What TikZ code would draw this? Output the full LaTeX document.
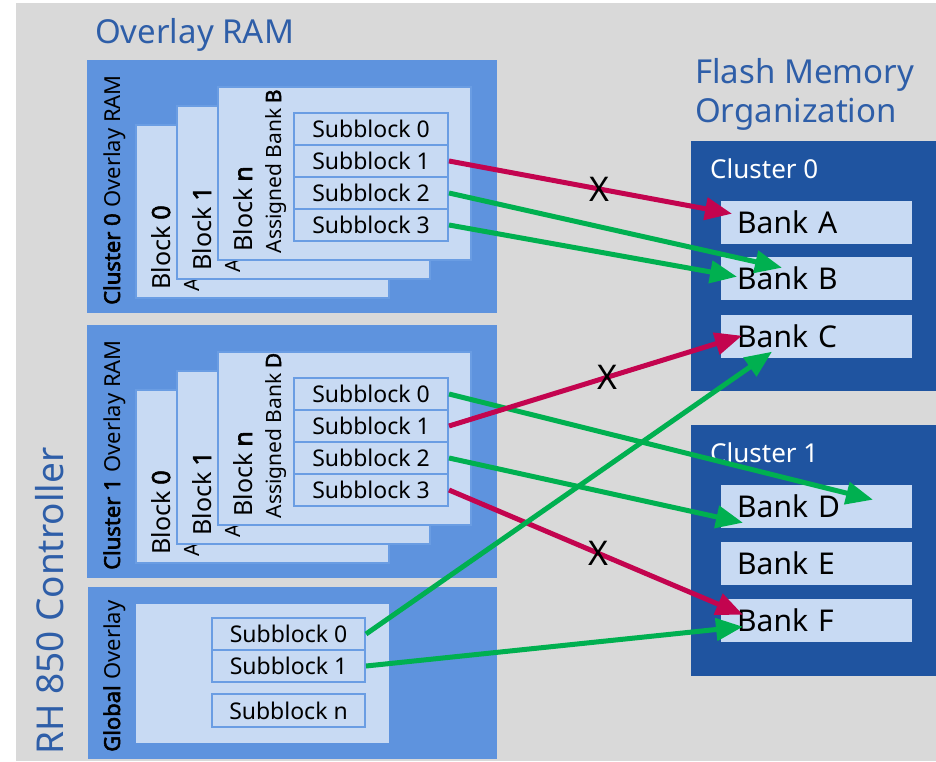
\documentclass[tikz,border=0pt]{standalone}
\usepackage{fontspec}
\setmainfont{Noto Sans}[AutoFakeBold=2.5]
\usetikzlibrary{arrows.meta, calc, positioning}
\definecolor{bggray}{HTML}{D9D9D9}
\definecolor{midblue}{HTML}{5E93DE}
\definecolor{paleblue}{HTML}{C8DAF3}
\definecolor{edgeblue}{HTML}{6A9DE3}
\definecolor{darkblue}{HTML}{1F54A0}
\definecolor{titleblue}{HTML}{2E5EA8}
\definecolor{okgreen}{HTML}{00B050}
\definecolor{badred}{HTML}{C3044F}

\begin{document}
\begin{tikzpicture}[x=1pt, y=-1pt,
  title/.style   = {font=\fontsize{33}{39}\selectfont, text=titleblue, inner sep=0},
  ovl/.style     = {rectangle, fill=midblue, anchor=north west, inner sep=0},
  blk/.style     = {rectangle, fill=paleblue, draw=edgeblue, line width=1.5pt,
                    anchor=north west, minimum width=253pt, minimum height=173pt, inner sep=0},
  sub/.style     = {rectangle, fill=paleblue, draw=edgeblue, line width=2pt, anchor=north west,
                    minimum width=154pt, minimum height=32pt, inner sep=0,
                    font=\fontsize{23}{27}\selectfont},
  sidelbl/.style = {rotate=90, anchor=base west, inner sep=0, font=\fontsize{22}{26}\selectfont},
  blklbl/.style  = {rotate=90, anchor=base west, inner sep=0, font=\fontsize{25}{30}\selectfont},
  asglbl/.style  = {rotate=90, anchor=base west, inner sep=0, font=\fontsize{21}{25}\selectfont},
  fcl/.style     = {rectangle, fill=darkblue, anchor=north west, inner sep=0},
  bank/.style    = {rectangle, fill=paleblue, anchor=north west, minimum height=43pt,
                    text width=159pt, inner xsep=16pt, inner ysep=0, align=left,
                    font=\fontsize{30}{36}\selectfont},
  go/.style      = {draw=okgreen, line width=5pt, -{Triangle[length=27pt, width=22pt]}},
  nogo/.style    = {draw=badred, line width=5pt, -{Triangle[length=27pt, width=22pt]}},
  xmark/.style   = {inner sep=0, font=\fontsize{34}{38}\selectfont},
]
% ── page ──
\fill[white] (0,0) rectangle (936,761);
\fill[bggray] (16,3) rectangle (936,761);
\useasboundingbox (0,0) rectangle (936,761);
% ── titles ──
\node[title, anchor=base west] (ramttl) at (95,43) {Overlay RAM};
\node[title, anchor=north west, align=left] (flashttl) at (695,58) {Flash Memory\\Organization};
\node[title, rotate=90, anchor=base west, font=\fontsize{37}{42}\selectfont] (ctrl) at (63,755) {RH 850 Controller};
% ── cluster overlay RAM ──
\foreach \k/\dy/\bk in {0/0/B, 1/265/D} {
  \node[ovl, minimum width=410pt, minimum height=253pt] (c\k) at (87,60+\dy) {};
  \node[sidelbl] (c\k lbl) at (120,305+\dy) {\textbf{Cluster \k} Overlay RAM};
  \foreach \i/\nm in {0/0, 1/1, 2/n} {
    \node[blk] (b\k\i) at (135+41*\i, 124+\dy-19*\i) {};
    \node[blklbl] (bl\k\i) at ($(b\k\i.south west)+(35,-9)$) {Block \textbf{\nm}};
    \node[asglbl] (as\k\i) at ($(b\k\i.south west)+(64,-7)$) {Assigned Bank \textbf{\bk}};
  }
  \foreach \s in {0,...,3}
    \node[sub] (c\k s\s) at (293,112+\dy+32*\s) {Subblock \s};
}
% ── global overlay ──
\node[ovl, minimum width=409pt, minimum height=172pt] (glb) at (88,587) {};
\node[sidelbl] (glblbl) at (120,752) {\textbf{Global} Overlay};
\node[rectangle, fill=paleblue, anchor=north west, minimum width=253pt,
      minimum height=139pt, inner sep=0] (glbin) at (136,604) {};
\node[sub, minimum width=153pt] (gs0) at (211,617) {Subblock 0};
\node[sub, minimum width=153pt] (gs1) at (211,649) {Subblock 1};
\node[sub, minimum width=153pt, minimum height=33pt] (gsn) at (211,693) {Subblock n};
% ── flash ──
\node[fcl, minimum width=245pt, minimum height=250pt] (fc0) at (691,141) {};
\node[fcl, minimum width=245pt, minimum height=251pt] (fc1) at (691,425) {};
\node[anchor=base west, inner sep=0, text=white, font=\fontsize{26}{30}\selectfont] (fc0lbl) at (710,178) {Cluster 0};
\node[anchor=base west, inner sep=0, text=white, font=\fontsize{26}{30}\selectfont] (fc1lbl) at (710,462) {Cluster 1};
\foreach \b/\y in {A/201, B/257, C/315, D/485, E/542, F/599}
  \node[bank] (bank\b) at (721,\y) {Bank \b};
% ── arrow tips ──
\coordinate (tA)  at ($(bankA.west)+(11,-9)$);
\coordinate (tB1) at ($(bankB.west)+(61,-11)$);
\coordinate (tB2) at ($(bankB.west)+(16,-2)$);
\coordinate (tC1) at ($(bankC.west)+(21,-1)$);
\coordinate (tC2) at ($(bankC.west)+(51,15)$);
\coordinate (tD1) at ($(bankD.west)+(152,-7)$);
\coordinate (tD2) at ($(bankD.west)+(22,16)$);
\coordinate (tF1) at ($(bankF.west)+(22,-6)$);
\coordinate (tF2) at ($(bankF.west)+(22,6)$);
% ── mappings ──
\draw[nogo] (c0s1.east) -- node[xmark, pos=0.53] (x0) {X} (tA);
\draw[go]   (c0s2.east) -- (tB1);
\draw[go]   (c0s3.east) -- (tB2);
\draw[go]   (c1s0.east) -- (tD1);
\draw[nogo] (c1s1.east) -- node[xmark, pos=0.54] (x1) {X} (tC1);
\draw[go]   (c1s2.east) -- (tD2);
\draw[nogo] (c1s3.east) -- node[xmark, pos=0.51] (x2) {X} (tF1);
\draw[go]   (gs0.east) -- (tC2);
\draw[go]   (gs1.east) -- (tF2);
\end{tikzpicture}
\end{document}
